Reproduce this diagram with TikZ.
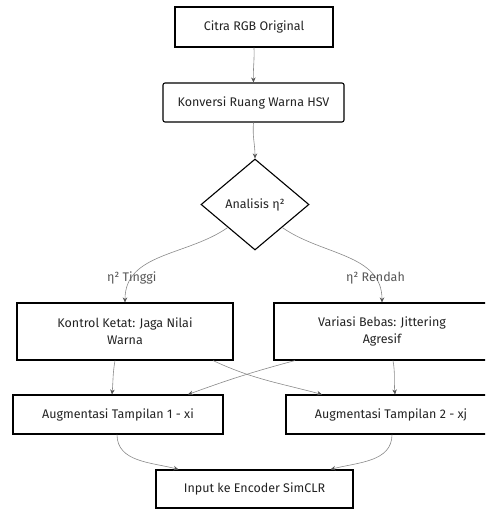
\documentclass[tikz,border=0pt]{standalone}
\usepackage{fontspec}
\setmainfont{Fira Sans}
\usepackage{xcolor}
\usepackage{tikz}
\usetikzlibrary{shapes, arrows.meta, positioning}

\definecolor{inktext}{HTML}{222222}
\definecolor{flowline}{HTML}{8A8A8A}
\definecolor{tipgray}{HTML}{555555}

\begin{document}
\begin{tikzpicture}[x=1pt, y=-1pt,
    font=\fontsize{12.5}{17}\selectfont, text=inktext,
    procbox/.style={draw=black, line width=1.1pt, rectangle, align=center, inner sep=0pt},
    decision/.style={draw=black, line width=1.1pt, diamond, inner sep=0pt, minimum width=108pt, minimum height=91pt},
    flow/.style={draw=flowline, line width=0.6pt, -{Stealth[length=5pt, width=4.5pt, color=tipgray]}},
    branchlabel/.style={text=tipgray, inner sep=1pt}]
    \useasboundingbox (0,0) rectangle (485,510);
    \clip (0,0) rectangle (485,510);

    % boxes
    \node[procbox, minimum width=158pt, minimum height=40pt] (citra) at (254,27) {Citra RGB Original};
    \node[procbox, minimum width=181pt, minimum height=39pt, rounded corners=2pt] (hsv) at (253.5,102.5) {Konversi Ruang Warna HSV};
    \node[decision] (analisis) at (255,204.5) {Analisis η²};
    \node[procbox, minimum width=216pt, minimum height=57pt] (kontrol) at (125,331.5) {Kontrol Ketat: Jaga Nilai\\Warna};
    \node[procbox, minimum width=216pt, minimum height=57pt] (variasi) at (382,331.5) {Variasi Bebas: Jittering\\Agresif};
    \node[procbox, minimum width=210pt, minimum height=39pt] (augsatu) at (118,414.5) {Augmentasi Tampilan 1 - xi};
    \node[procbox, minimum width=210pt, minimum height=39pt] (augdua) at (391,414.5) {Augmentasi Tampilan 2 - xj};
    \node[procbox, minimum width=197pt, minimum height=38pt] (simclr) at (254.5,489) {Input ke Encoder SimCLR};

    % connectors
    \draw[flow] (citra.south) to[out=-88, in=92] (hsv.north);
    \draw[flow] (hsv.south) to[out=-95, in=90] (analisis.north);
    \draw[flow] (analisis.south west) to[out=215, in=90] node[branchlabel, pos=0.8] {η² Tinggi} (kontrol.north);
    \draw[flow] (analisis.south east) to[out=-35, in=90] node[branchlabel, pos=0.8] {η² Rendah} (variasi.north);
    \draw[flow] ([xshift=-10pt]kontrol.south) to[out=-100, in=85] ([xshift=-6pt]augsatu.north);
    \draw[flow] ([xshift=88pt]kontrol.south) to[out=-25, in=165] ([xshift=-69pt]augdua.north);
    \draw[flow] ([xshift=-87pt]variasi.south) to[out=-165, in=20] ([xshift=70pt]augsatu.north);
    \draw[flow] ([xshift=11pt]variasi.south) to[out=-80, in=95] ([xshift=4pt]augdua.north);
    \draw[flow] ([xshift=-1pt]augsatu.south) to[out=-90, in=165] ([xshift=-76pt]simclr.north);
    \draw[flow] ([xshift=1pt]augdua.south) to[out=-90, in=15] ([xshift=76pt]simclr.north);
\end{tikzpicture}
\end{document}
